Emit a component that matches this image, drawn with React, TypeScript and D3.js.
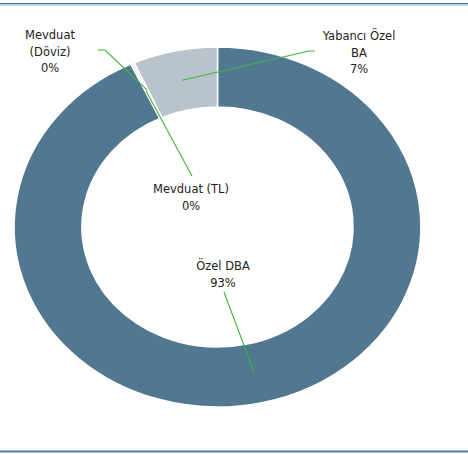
import React from "react";
import * as d3 from "d3";

const categories = ["Özel DBA", "Mevduat (TL)", "Mevduat (Döviz)", "Yabancı Özel BA"];
const values = [93.0, 0.15, 0.15, 6.7];
const pctLabels = ["93%", "0%", "0%", "7%"];
const labelLines = [["Özel DBA", "93%"], ["Mevduat (TL)", "0%"], ["Mevduat", "(Döviz)", "0%"], ["Yabancı Özel", "BA", "7%"]];
const colors = ["#527891", "#6f8ca3", "#8fa4b6", "#b8c3cc"];

const W = 468, H = 454;
const cx = 217.5, cy = 227;
const sx = 1.13;
const outerR = 180, innerR = 120;

// label placement: [text center x, first baseline y, leader end points]
const labelPos: { x: number; y: number; pts: [number, number][] }[] = [
  { x: 223, y: 270, pts: [[224, 292]] },
  { x: 191, y: 193, pts: [[192, 176]] },
  { x: 50, y: 39, pts: [[105, 50], [98, 50]] },
  { x: 359, y: 40, pts: [[309, 51], [315, 51]] },
];

export default function App() {
  const pie = d3.pie<number>().sort(null).value((d) => d);
  const arcs = pie(values);
  const arc = d3.arc<d3.PieArcDatum<number>>().innerRadius(innerR).outerRadius(outerR);
  const lh = 16.5;
  return (
    <svg width={W} height={H} style={{ position: "absolute", left: 0, top: 0, fontFamily: "DejaVu Sans, sans-serif" }}>
      <rect x={0} y={0} width={W} height={H} fill="#fff" />
      <line x1={0} x2={W} y1={3.5} y2={3.5} stroke="#3f6f9f" strokeWidth={1.2} />
      <line x1={0} x2={W} y1={4.8} y2={4.8} stroke="#9ab8d6" strokeWidth={1.2} />
      <line x1={0} x2={W} y1={451.5} y2={451.5} stroke="#4a7db0" strokeWidth={2} />
      <g transform={`translate(${cx},${cy}) scale(${sx},1)`}>
        {arcs.map((a, i) => (
          <path key={i} d={arc(a) || ""} fill={colors[i]} stroke="#fff" strokeWidth={1.5} vectorEffect="non-scaling-stroke" />
        ))}
      </g>
      {arcs.map((a, i) => {
        const [px, py] = arc.centroid(a);
        const start: [number, number] = [cx + px * sx, cy + py];
        const pts = [start, ...labelPos[i].pts];
        return (
          <polyline key={"l" + i} points={pts.map((p) => p.join(",")).join(" ")} fill="none" stroke="#3db53a" strokeWidth={1.1} />
        );
      })}
      {labelLines.map((lines, i) => (
        <text key={"t" + i} textAnchor="middle" fontSize={11.5} fill="#222">
          {lines.map((s, j) => (
            <tspan key={j} x={labelPos[i].x} y={labelPos[i].y + j * lh}>{s}</tspan>
          ))}
        </text>
      ))}
    </svg>
  );
}
